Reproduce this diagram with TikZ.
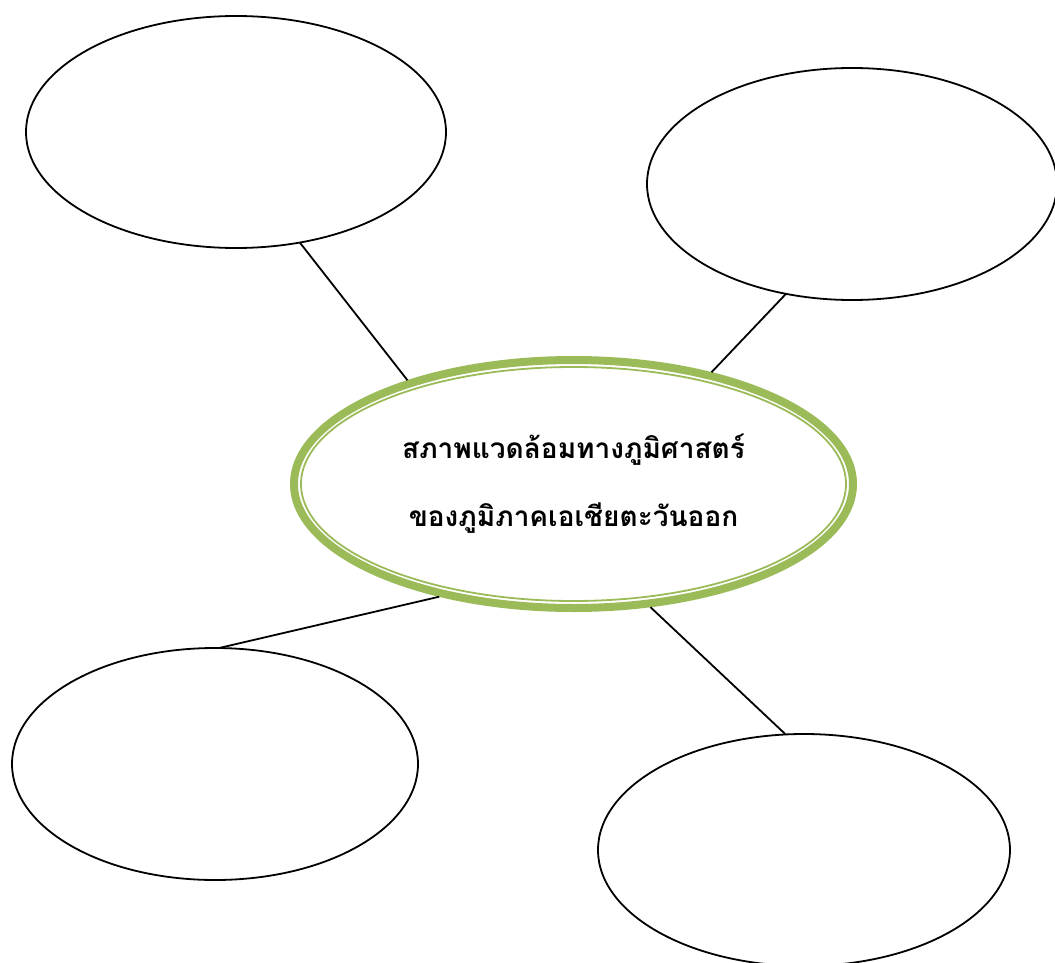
\documentclass[tikz,border=0pt]{standalone}
\usepackage{fontspec}
\newfontfamily\thaifont[Script=Thai]{Loma}
\usetikzlibrary{shapes.geometric}
\definecolor{olive}{RGB}{155,187,89}

\begin{document}
\begin{tikzpicture}[x=1pt, y=-1pt, line width=1.8pt, outer sep=0pt,
    bubble/.style={ellipse, draw, inner sep=0pt, minimum width=410, minimum height=232}]
    \useasboundingbox (0,0) rectangle (1055,963);
    \node [bubble, minimum width=420] (tl) at (236, 132) {};
    \node [bubble] (tr) at (852, 184) {};
    \node [bubble, minimum width=406] (bl) at (215, 764) {};
    \node [bubble, minimum width=412] (br) at (804, 850) {};
    \node [ellipse, draw=olive, line width=8pt, outer sep=4pt, inner sep=0pt, minimum width=559, minimum height=248,
        align=center, font=\thaifont\bfseries\fontsize{28}{68}\selectfont] (c) at (573.5, 484)
        {สภาพแวดล้อมทางภูมิศาสตร์\\ของภูมิภาคเอเชียตะวันออก};
    \draw [olive, line width=1.8pt] (c.center) ellipse [x radius=272.5, y radius=117];

    \draw (tl.-60) -- (c.148);
    \draw (tr.-121) -- (c.39.2);
    \draw (bl.88.5) -- (c.220);
    \draw (br.99) -- (c.-58.4);
\end{tikzpicture}
\end{document}
